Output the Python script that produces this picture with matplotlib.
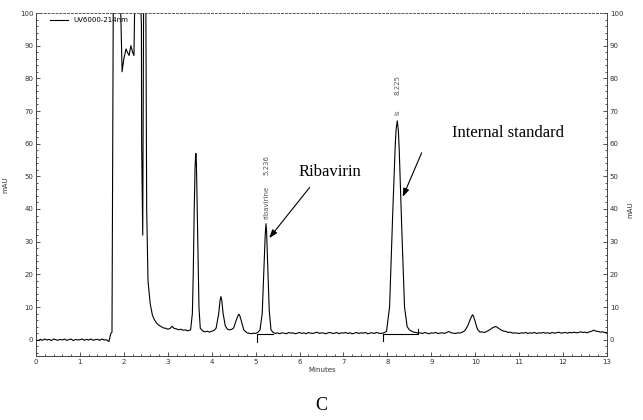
import numpy as np
import matplotlib.pyplot as plt
from matplotlib.ticker import MultipleLocator

# chromatogram trace (minutes, mAU)
tiempo = [0.00, 0.05, 0.10, 0.15, 0.20, 0.25, 0.30, 0.35, 0.40, 0.45, 0.50, 0.55, 0.60, 0.65,
          0.70, 0.75, 0.80, 0.85, 0.90, 0.95, 1.00, 1.05, 1.10, 1.15, 1.20, 1.25, 1.30, 1.35,
          1.40, 1.45, 1.50, 1.55, 1.60, 1.66, 1.70, 1.73, 1.76,
          1.90, 1.93, 1.96, 2.00, 2.05, 2.08, 2.12, 2.16, 2.20, 2.23, 2.25,
          2.38, 2.40, 2.405, 2.43, 2.45, 2.50, 2.52, 2.55, 2.60, 2.65, 2.70, 2.75, 2.80,
          2.85, 2.90, 2.95, 3.00, 3.05, 3.10, 3.15, 3.20, 3.25, 3.30, 3.35, 3.40, 3.45, 3.52,
          3.56, 3.58, 3.60, 3.62, 3.63, 3.64, 3.65, 3.66, 3.68, 3.71, 3.74, 3.80, 3.85, 3.90,
          3.95, 4.00, 4.05, 4.10, 4.16, 4.19, 4.21, 4.23, 4.26, 4.31, 4.36, 4.40, 4.45, 4.50,
          4.56, 4.60, 4.62, 4.64, 4.68, 4.73,
          4.80, 4.85, 4.90, 4.95, 5.00, 5.05, 5.10, 5.15, 5.20, 5.22, 5.236, 5.25, 5.27, 5.31,
          5.35, 5.40,
          5.45, 5.50, 5.55, 5.60, 5.65, 5.70, 5.75, 5.80, 5.85, 5.90, 5.95, 6.00, 6.05, 6.10,
          6.15, 6.20, 6.25, 6.30, 6.35, 6.40, 6.45, 6.50, 6.55, 6.60, 6.65, 6.70, 6.75, 6.80,
          6.85, 6.90, 6.95, 7.00, 7.05, 7.10, 7.15, 7.20, 7.25, 7.30, 7.35, 7.40, 7.45, 7.50,
          7.55, 7.60, 7.65, 7.70, 7.75, 7.80, 7.85, 7.90, 7.98, 8.05, 8.12, 8.18, 8.20, 8.225,
          8.25, 8.27, 8.33, 8.39, 8.45, 8.50, 8.55, 8.60, 8.65, 8.70, 8.75, 8.80, 8.85, 8.90,
          8.95, 9.00,
          9.05, 9.10, 9.15, 9.20, 9.25, 9.30, 9.35, 9.40, 9.45, 9.50, 9.55, 9.60, 9.65, 9.70,
          9.75, 9.80, 9.84, 9.88, 9.92, 9.94, 9.96, 10.00, 10.04, 10.07, 10.11, 10.15, 10.20,
          10.25, 10.30, 10.35, 10.40, 10.45, 10.47, 10.50, 10.55, 10.60, 10.65, 10.70, 10.75,
          10.80, 10.85, 10.90, 10.95,
          11.00, 11.05, 11.10, 11.15, 11.20, 11.25, 11.30, 11.35, 11.40, 11.45, 11.50, 11.55,
          11.60, 11.65, 11.70, 11.75, 11.80, 11.85, 11.90, 11.95, 12.00, 12.05, 12.10, 12.15,
          12.20, 12.25, 12.30, 12.35, 12.40, 12.45, 12.50, 12.55, 12.60, 12.65, 12.70, 12.75,
          12.80, 12.85, 12.90, 12.95, 13.00]
mau = [0.0, -0.3, 0.1, -0.2, 0.2, -0.1, 0.1, -0.3, 0.2, 0.0, -0.2, 0.1, -0.1, 0.2,
       -0.2, 0.0, 0.2, -0.3, 0.1, -0.1, 0.0, 0.2, -0.2, 0.1, -0.1, 0.2, -0.2, 0.0,
       0.1, -0.2, 0.2, -0.1, 0.0, -0.6, 1.8, 2.3, 105,
       105, 100, 82, 86, 89, 88, 87, 90, 88, 87, 105,
       105, 96, 60, 32, 105, 105, 40, 18, 11, 7.5, 6.0, 5.0, 4.4,
       4.0, 3.6, 3.5, 3.2, 3.4, 4.1, 3.4, 3.3, 3.0, 3.2, 2.9, 3.0, 2.7, 3.0,
       8, 20, 38, 52, 55.5, 57, 55, 48, 32, 10, 3.5, 2.6, 2.4, 2.6,
       2.3, 2.6, 2.8, 3.5, 8, 12, 13.2, 12, 8, 4.2, 3.2, 3.0, 3.1, 3.6,
       6.0, 7.4, 7.8, 7.3, 5.5, 3.0,
       2.1, 2.0, 1.8, 2.0, 1.9, 2.2, 3.0, 8, 25, 32.5, 35.5, 33, 25, 9,
       3.0, 2.2,
       1.9, 2.1, 1.8, 2.1, 2.0, 1.8, 2.2, 2.0, 2.1, 1.8, 2.0, 2.2, 1.9, 2.1,
       1.8, 2.2, 2.0, 1.9, 2.1, 2.3, 1.9, 2.1, 2.0, 1.8, 2.1, 2.2, 1.9, 2.0,
       2.2, 1.8, 2.1, 2.0, 2.2, 1.9, 2.1, 1.8, 2.0, 2.2, 1.9, 2.1, 2.0, 2.2,
       1.8, 2.0, 2.1, 1.9, 2.2, 2.0, 1.9, 2.0, 2.5, 10, 38, 60, 64.5, 67,
       64, 58, 33, 10, 4.0, 3.0, 2.6, 2.3, 2.2, 2.0, 2.1, 1.9, 2.2, 2.0,
       1.8, 2.1,
       2.0, 2.2, 1.9, 2.0, 2.1, 1.9, 2.2, 2.5, 2.1, 2.0, 1.9, 2.1, 2.0, 2.3,
       2.6, 3.5, 4.6, 6.0, 7.2, 7.6, 7.2, 5.5, 3.6, 2.8, 2.3, 2.4, 2.2,
       2.4, 2.8, 3.2, 3.7, 3.95, 4.0, 3.8, 3.3, 2.9, 2.6, 2.5, 2.2,
       2.3, 2.0, 2.1, 2.0,
       1.9, 2.1, 2.0, 2.2, 1.9, 2.1, 2.0, 2.2, 1.9, 2.1, 2.0, 2.2,
       2.0, 2.1, 1.9, 2.2, 2.0, 2.1, 2.3, 2.0, 2.1, 2.2, 2.0, 2.2,
       2.1, 2.3, 2.1, 2.2, 2.4, 2.2, 2.3, 2.1, 2.4, 2.6, 2.9, 2.6,
       2.5, 2.3, 2.4, 2.2, 2.2]

# integration baselines drawn by the software
base_t = [[5.04, 5.04, 5.40], [7.89, 7.89, 8.70, 8.70]]
base_y = [[-0.6, 1.8, 1.8], [-0.5, 1.7, 1.7, 3.4]]

fig = plt.figure(figsize=(6.43, 4.2), dpi=100)
ax = fig.add_axes([36/643, 1-356/420, 571/643, 343/420])

ax.plot(tiempo, mau, color='black', linewidth=0.8, label='UV6000-214nm')
for bt, by in zip(base_t, base_y):
    ax.plot(bt, by, color='black', linewidth=0.8)

ax.set_xlim(0, 13)
ax.set_ylim(-5, 100)
ax.xaxis.set_major_locator(MultipleLocator(1))
ax.xaxis.set_minor_locator(MultipleLocator(0.2))
ax.yaxis.set_major_locator(MultipleLocator(10))
ax.yaxis.set_minor_locator(MultipleLocator(2))
ax.tick_params(which='both', direction='in', right=True, labelright=True,
               labelsize=5, colors='#333333', width=0.6, pad=2)
ax.tick_params(which='major', length=3)
ax.tick_params(which='minor', length=1.5)
for s in ['left', 'right', 'bottom']:
    ax.spines[s].set_linewidth(0.7)
    ax.spines[s].set_color('#444444')
ax.spines['top'].set_linestyle((0, (2, 2)))
ax.spines['top'].set_linewidth(0.7)
ax.spines['top'].set_color('#555555')

ax.set_ylabel('mAU', fontsize=5, color='#333333', labelpad=8)
fig.text(630/643, 1-210/420, 'mAU', fontsize=5, color='#333333', rotation=90,
         ha='center', va='center')
fig.text(322/643, 1-370/420, 'Minutes', fontsize=5, color='#333333', ha='center', va='center')
fig.text(321/643, 1-405/420, 'C', fontsize=13, family='Liberation Serif', ha='center', va='center')

ax.legend(loc='upper left', fontsize=5, frameon=False, handlelength=2.5,
          bbox_to_anchor=(0.02, 0.995), borderaxespad=0)

# peak labels
ax.text(5.236, 53.5, '5.236', rotation=90, fontsize=5, color='#555555', ha='center', va='center')
ax.text(5.236, 42, 'ribavirine', rotation=90, fontsize=5, color='#555555', ha='center', va='center')
ax.text(8.225, 78, '8.225', rotation=90, fontsize=5, color='#555555', ha='center', va='center')
ax.text(8.225, 69.5, 'is', rotation=90, fontsize=5, color='#555555', ha='center', va='center')

# annotations with arrows
flecha = dict(arrowstyle='-|>,head_length=0.5,head_width=0.18', color='black', linewidth=0.8,
              shrinkA=0, shrinkB=0)
ax.annotate('', xy=(5.31, 31.1), xytext=(6.23, 46.6), arrowprops=flecha)
ax.text(6.69, 51.2, 'Ribavirin', fontsize=12, family='Liberation Serif', ha='center', va='center')
ax.annotate('', xy=(8.35, 43.7), xytext=(8.78, 57.2), arrowprops=flecha)
ax.text(10.74, 63.3, 'Internal standard', fontsize=12, family='Liberation Serif',
        ha='center', va='center')

fig.savefig('out.png', dpi=100)
